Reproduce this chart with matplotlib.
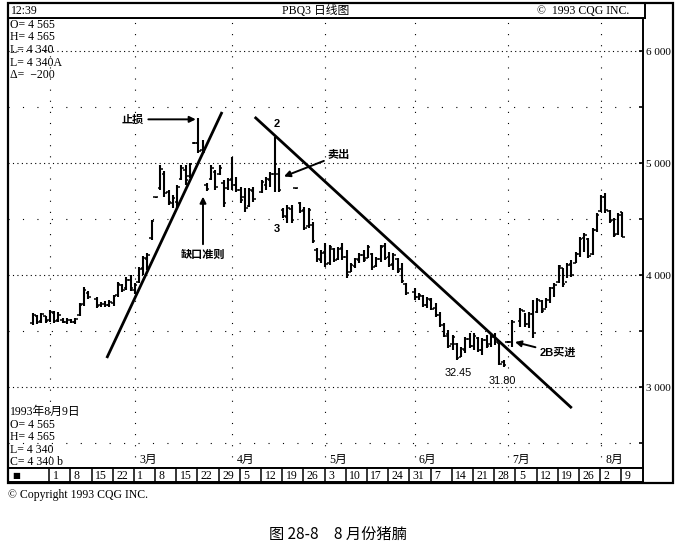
import numpy as np
import pandas as pd
import matplotlib
matplotlib.use("Agg")
import matplotlib.pyplot as plt

plt.rcParams['font.family'] = ['Liberation Serif', 'Noto Sans CJK SC', 'DejaVu Sans']
CJK = ['Noto Sans CJK SC', 'DejaVu Sans']
SANS = ['Liberation Sans', 'Noto Sans CJK SC']

# ---- data: daily pork belly bars, Jan 26 - Aug 9 1993 (holidays are gaps) ----
first_day = "1993-01-26"
last_day = "1993-08-09"
holidays = ["1993-02-15", "1993-04-09", "1993-05-31", "1993-07-05"]

highs = [3660, 3645, 3660, 3635, 3690, 3680, 3670, 3615, 3615, 3605, 3615, 3750, 3895, 3855,
         3805, 3760, 3770, 3775, 3820, 3940, 3920, 3985, 4000,
         3930, 4070, 4170, 4195, 4490, 4700, 4980, 4930, 4760, 4715, 4805, 4980, 4980, 5000,
         5185, 5400, 5205, 4820, 4980, 4940, 4980, 4850, 4870, 5055, 4875,
         4785, 4780, 4780, 4785, 4850, 4875, 4920, 5235, 4955, 4600, 4625, 4625, 4780,
         4650, 4610, 4600, 4475, 4240, 4225,
         4285, 4270, 4240, 4250, 4285, 4225, 4105, 4150, 4195, 4225, 4270, 4195, 4160, 4270,
         4285, 4205, 4195, 4150, 4105, 3930,
         3885, 3840, 3820, 3805, 3795, 3750, 3670, 3570, 3510, 3465, 3395, 3355, 3445, 3480,
         3480, 3445, 3440, 3465, 3465, 3480, 3395, 3240, 3410, 3600,
         3705, 3660, 3670, 3775, 3795, 3775, 3795, 3895, 3930, 4090, 4065, 4105, 4135, 4205,
         4340, 4375, 4330, 4420, 4555, 4715, 4735, 4580, 4510, 4555, 4565]
lows = [3555, 3565, 3570, 3570, 3580, 3570, 3580, 3570, 3565, 3570, 3565, 3635, 3725, 3785,
        3705, 3715, 3715, 3715, 3725, 3805, 3850, 3865, 3855,
        3830, 3930, 4000, 4045, 4315, 4690, 4760, 4700, 4625, 4600, 4610, 4850, 4805, 4865,
        5170, 5090, 5090, 4750, 4850, 4760, 4890, 4610, 4760, 4760, 4740,
        4645, 4565, 4610, 4650, 4730, 4760, 4785, 4740, 4740, 4510, 4465, 4465, 4770,
        4555, 4400, 4420, 4285, 4115, 4105,
        4070, 4090, 4115, 4135, 4135, 3975, 4025, 4065, 4105, 4115, 4150, 4045, 4070, 4115,
        4135, 4070, 4045, 4020, 3930, 3820,
        3775, 3775, 3715, 3705, 3690, 3625, 3535, 3445, 3350, 3330, 3245, 3265, 3305, 3350,
        3330, 3315, 3285, 3350, 3355, 3375, 3195, 3180, 3395, 3355,
        3535, 3535, 3525, 3440, 3660, 3660, 3705, 3750, 3805, 3930, 3895, 3975, 3980, 4105,
        4160, 4205, 4150, 4180, 4385, 4565, 4555, 4465, 4340, 4360, 4340]
opens = [3570, 3630, 3590, 3630, 3600, 3660, 3600, 3600, 3580, 3595, 3580, 3640, 3740, 3840,
         3790, 3730, 3740, 3730, 3750, 3820, 3910, 3880, 3960,
         3870, 3940, 4060, 4140, 4330, 4695, 4780, 4900, 4740, 4640, 4650, 4860, 4940, 4880,
         5180, 5180, 5120, 4800, 4860, 4920, 4900, 4820, 4780, 4860, 4800,
         4760, 4700, 4620, 4750, 4740, 4800, 4850, 4900, 4900, 4580, 4520, 4590, 4775,
         4640, 4580, 4440, 4450, 4220, 4130,
         4210, 4110, 4230, 4140, 4240, 4160, 4030, 4080, 4130, 4180, 4150, 4190, 4080, 4140,
         4260, 4160, 4100, 4140, 4050, 3920,
         3850, 3800, 3810, 3730, 3780, 3710, 3640, 3550, 3470, 3380, 3380, 3270, 3330, 3430,
         3370, 3440, 3330, 3420, 3380, 3450, 3390, 3220, 3400, 3400,
         3590, 3680, 3560, 3650, 3670, 3770, 3700, 3780, 3880, 3940, 4060, 3940, 4100, 4110,
         4190, 4330, 4320, 4190, 4400, 4570, 4700, 4570, 4490, 4370, 4565]
closes = [3640, 3580, 3650, 3590, 3670, 3590, 3640, 3580, 3600, 3580, 3610, 3730, 3870, 3800,
          3720, 3740, 3730, 3760, 3810, 3920, 3870, 3960, 3880,
          3910, 4050, 4150, 4180, 4480, 4695, 4950, 4730, 4650, 4690, 4790, 4960, 4850, 4990,
          5180, 5110, 5100, 4770, 4960, 4790, 4960, 4640, 4850, 4800, 4760,
          4670, 4600, 4760, 4680, 4830, 4860, 4900, 4990, 4760, 4530, 4600, 4490, 4775,
          4570, 4420, 4580, 4300, 4140, 4200,
          4100, 4250, 4130, 4230, 4160, 4000, 4090, 4140, 4180, 4130, 4250, 4070, 4140, 4250,
          4150, 4090, 4180, 4040, 3950, 3840,
          3800, 3820, 3730, 3790, 3700, 3640, 3550, 3460, 3370, 3450, 3260, 3340, 3430, 3370,
          3460, 3330, 3420, 3370, 3450, 3400, 3210, 3200, 3400, 3580,
          3690, 3560, 3650, 3480, 3780, 3680, 3780, 3880, 3910, 4080, 3920, 4090, 4000, 4190,
          4320, 4360, 4170, 4400, 4540, 4700, 4580, 4480, 4360, 4540, 4340]

price_ticks = [3000, 4000, 5000, 6000]
price_tick_labels = ["3 000", "4 000", "5 000", "6 000"]
month_names = ["3月", "4月", "5月", "6月", "7月", "8月"]

info_top = ["O= 4 565", "H= 4 565", "L= 4 340", "L= 4 340A", "Δ=  −200"]
info_bottom = ["1993年8月9日", "O= 4 565", "H= 4 565", "L= 4 340", "C= 4 340 b"]

# trend lines drawn by the author (trading-day position, price)
up_line_x, up_line_y = [13.4, 40.6], [3259, 5456]
down_line_x, down_line_y = [48.3, 123.1], [5411, 2812]

# ---- x positions: 5 slots per week counted from Monday Feb 1 ----
dates = pd.bdate_range(first_day, last_day)
dates = dates[~dates.isin(pd.to_datetime(holidays))]
origin = pd.Timestamp("1993-02-01")


def day_pos(d):
    return ((d - origin).days // 7) * 5 + d.weekday()


x = np.array([day_pos(d) for d in dates])
mondays = pd.date_range("1993-02-01", last_day, freq="W-MON")
monday_pos = np.array([day_pos(d) for d in mondays])
month_first = pd.Series(dates).groupby(dates.to_period("M")).first()
month_pos = np.array([day_pos(d) for d in month_first])  # Jan, Feb, ..., Aug

W, H = 680, 547


def fx(px):
    return px / W


def fy(py):
    return 1 - py / H


fig = plt.figure(figsize=(6.8, 5.47), dpi=100)

# main price panel
ax = fig.add_axes([fx(8), fy(468), (643 - 8) / W, (468 - 18) / H])
xlim = (-9.9, 139.9)
ylim = (2277, 6295)
ax.set_xlim(*xlim)
ax.set_ylim(*ylim)

ax.hlines(price_ticks, *xlim, colors="k", linestyles=(0, (1, 3)), lw=0.8)
ax.hlines([2500, 3500, 4500, 5500], *xlim, colors="k", linestyles=(0, (1, 12)), lw=0.8)
ax.vlines(month_pos[1:], *ylim, colors="k", linestyles=(0, (1, 9)), lw=0.8)

ax.vlines(x, lows, highs, colors="k", lw=1.5)
ax.hlines(opens, x - 0.6, x, colors="k", lw=1.1)
ax.hlines(closes, x, x + 0.6, colors="k", lw=1.1)

ax.plot(up_line_x, up_line_y, color="k", lw=2.0, solid_capstyle="butt")
ax.plot(down_line_x, down_line_y, color="k", lw=2.0, solid_capstyle="butt")

for pos, name in zip(month_pos[2:], month_names):
    ax.text(pos + 1.0, 2350, name, fontsize=8.5, va="center", ha="left")

ax.yaxis.tick_right()
ax.set_yticks(price_ticks)
ax.set_yticklabels(price_tick_labels)
ax.set_yticks([2500, 3500, 4500, 5500], minor=True)
ax.tick_params(axis="y", which="both", direction="in", length=3, width=1.2,
               labelsize=8, pad=2)
ax.set_xticks([])
for s in ax.spines.values():
    s.set_linewidth(1.4)

arrow = dict(arrowstyle="-|>", color="k", lw=1.4, mutation_scale=9, shrinkA=1, shrinkB=0)
ax.annotate("止损", xy=(34.4, 5390), xytext=(19.6, 5390), fontsize=8, family=CJK,
            weight="bold", ha="center", va="center", arrowprops=arrow)
ax.annotate("卖出", xy=(55.2, 4880), xytext=(68.2, 5072), fontsize=8, family=CJK,
            weight="bold", ha="center", va="center", arrowprops=arrow)
ax.annotate("缺口准则", xy=(36.1, 4700), xytext=(36.1, 4180), fontsize=8, family=CJK,
            weight="bold", ha="center", va="center", arrowprops=arrow)
ax.annotate("2B买进", xy=(109.7, 3402), xytext=(119.8, 3304), fontsize=8, family=SANS,
            weight="bold", ha="center", va="center", arrowprops=arrow)
ax.text(53.5, 5349, "2", fontsize=8, family=SANS, weight="bold", ha="center", va="center")
ax.text(53.5, 4411, "3", fontsize=8, family=SANS, weight="bold", ha="center", va="center")
ax.text(96.2, 3125, "32.45", fontsize=7.8, family=SANS, ha="center", va="center")
ax.text(106.6, 3054, "31.80", fontsize=7.8, family=SANS, ha="center", va="center")

for k, line in enumerate(info_top):
    fig.text(fx(10), fy(25 + 12.5 * k), line, fontsize=8.5, va="center")
for k, line in enumerate(info_bottom):
    fig.text(fx(10), fy(412 + 12.6 * k), line, fontsize=8.5, va="center")

# header strip
hx = fig.add_axes([fx(8), fy(18), (645 - 8) / W, 15 / H])
hx.set_xticks([])
hx.set_yticks([])
for s in hx.spines.values():
    s.set_linewidth(1.4)
hx.text(0.004, 0.45, "12:39", fontsize=8.5, va="center", transform=hx.transAxes)
hx.text(0.483, 0.45, "PBQ3 日线图", fontsize=8.5, va="center", ha="center",
        transform=hx.transAxes)
hx.text(0.976, 0.45, "©  1993 CQG INC.", fontsize=8.5, va="center", ha="right",
        transform=hx.transAxes)

# date strip
dx = fig.add_axes([fx(8), fy(482), (643 - 8) / W, 14 / H])
dx.set_xlim(*xlim)
dx.set_ylim(0, 1)
dx.set_xticks([])
dx.set_yticks([])
for s in dx.spines.values():
    s.set_linewidth(1.4)
dx.vlines(monday_pos - 0.2, 0, 1, colors="k", lw=1.1)
for pos, d in zip(monday_pos, mondays):
    dx.text(pos + 0.6, 0.45, str(d.day), fontsize=8.5, va="center", ha="left")
dx.text(-9.0, 0.45, "■", fontsize=6, va="center", ha="left", family=["DejaVu Sans"])

# outer frame
fig.add_artist(plt.Rectangle((fx(8), fy(483)), (673 - 8) / W, (483 - 3) / H,
                             fill=False, lw=1.6, color="k", transform=fig.transFigure))

fig.text(fx(8), fy(495), "© Copyright 1993 CQG INC.", fontsize=8.5, va="center")
fig.text(fx(338), fy(534), "图 28-8　8 月份猪腩", fontsize=11, va="center", ha="center",
         family=CJK)

fig.savefig("out.png", dpi=100)
